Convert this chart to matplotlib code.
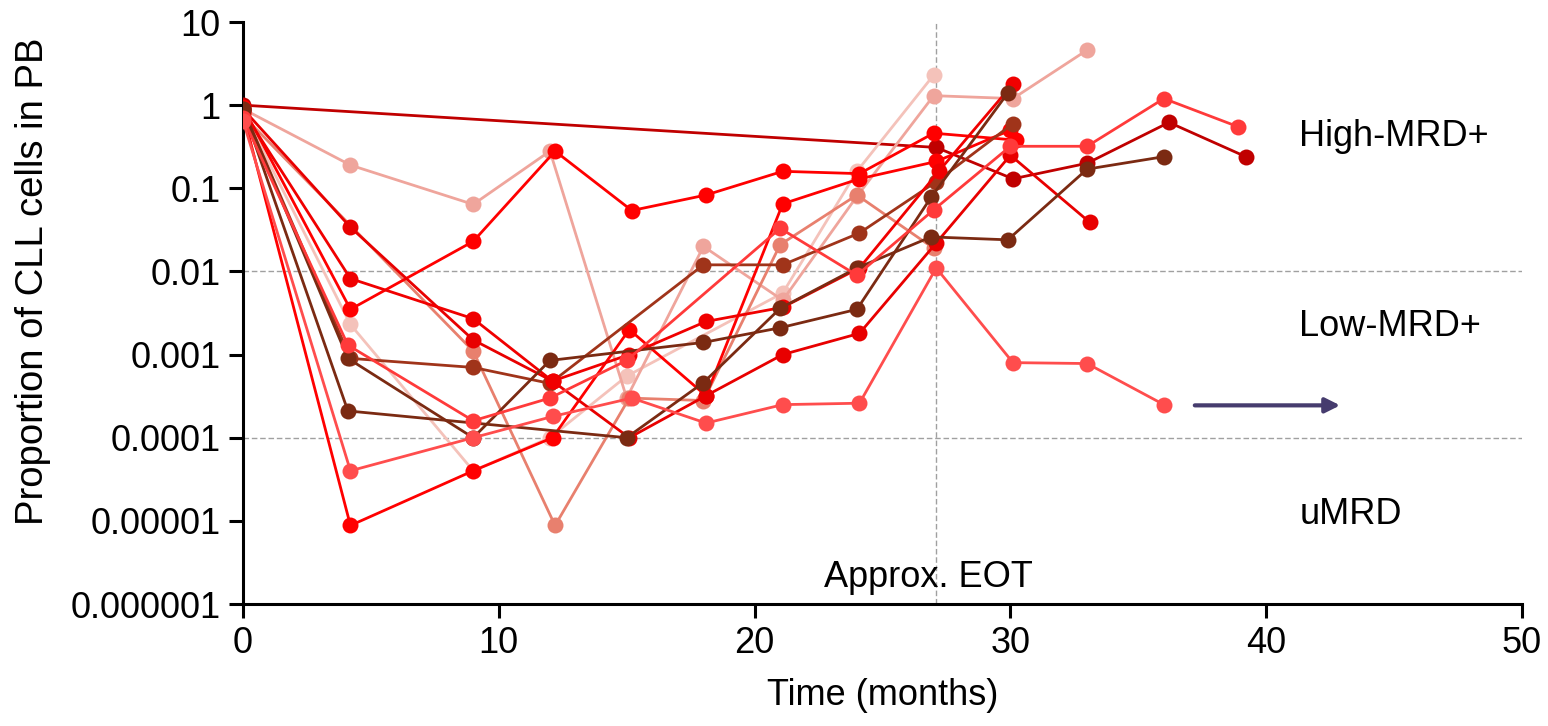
import matplotlib
matplotlib.use("Agg")
import matplotlib.pyplot as plt
from matplotlib.ticker import FixedLocator, NullLocator

plt.rcParams['font.family'] = ['Liberation Sans', 'DejaVu Sans']

# Patient MRD trajectories: time (months) and proportion of CLL cells in PB
dr_t = [0, 27.1, 30.1, 33.0, 36.2, 39.2]
dr_v = [1.0, 0.31, 0.13, 0.2, 0.62, 0.24]

pp_t = [0, 4.2, 9.0, 12.0, 15.0, 18.0, 21.1, 24.0, 27.0, 30.1, 33.0]
pp_v = [0.9, 0.19, 0.064, 0.28, 0.0003, 0.02, 0.0045, 0.08, 1.3, 1.2, 4.6]

vp_t = [0, 4.2, 9.0, 12.0, 15.0, 21.1, 24.0, 27.0]
vp_v = [0.85, 0.0023, 0.00004, 0.0001, 0.00055, 0.0055, 0.16, 2.3]

sa_t = [0, 9.0, 12.2, 15.1, 18.0, 21.0, 24.0, 27.0]
sa_v = [0.75, 0.0011, 0.0000088, 0.0003, 0.00028, 0.021, 0.083, 0.019]

rc_t = [0, 4.2, 9.0, 12.2, 15.2, 18.1, 21.1, 24.1, 27.0, 30.2]
rc_v = [0.95, 0.0035, 0.023, 0.28, 0.054, 0.083, 0.16, 0.15, 0.46, 0.38]

ra_t = [0, 4.2, 9.0, 12.1, 15.1, 18.1, 21.1, 24.1, 27.1, 30.0, 33.1]
ra_v = [0.9, 0.034, 0.0015, 0.00048, 0.0001, 0.00032, 0.001, 0.0018, 0.022, 0.25, 0.039]

rb_t = [0, 4.2, 9.0, 12.1, 15.1, 18.1, 21.1, 24.1, 27.2, 30.1]
rb_v = [0.85, 0.0082, 0.0027, 0.00048, 0.001, 0.0025, 0.0037, 0.011, 0.16, 1.8]

re_t = [0, 4.2, 9.0, 12.1, 15.1, 18.1, 21.1, 24.1, 27.1, 30.0]
re_v = [0.8, 0.0000088, 0.00004, 0.0001, 0.002, 0.00032, 0.065, 0.13, 0.21, 0.5]

lrc_t = [0, 4.1, 9.0, 12.0, 15.0, 21.0, 24.0, 27.0, 30.0, 33.0, 36.0, 38.9]
lrc_v = [0.7, 0.0013, 0.00016, 0.0003, 0.00085, 0.033, 0.009, 0.055, 0.32, 0.32, 1.2, 0.55]

dbc_t = [0, 4.1, 9.0, 12.0, 18.0, 21.0, 24.0, 26.9, 29.9]
dbc_v = [0.9, 0.0009, 0.0001, 0.00085, 0.0014, 0.0021, 0.0035, 0.078, 1.4]

br_t = [0, 4.2, 9.0, 12.0, 18.0, 21.1, 24.1, 27.1, 30.1]
br_v = [0.9, 0.0009, 0.0007, 0.00045, 0.012, 0.012, 0.029, 0.12, 0.6]

dbd_t = [0, 4.1, 15.0, 18.0, 21.0, 24.0, 26.9, 29.9, 33.0, 36.0]
dbd_v = [0.88, 0.00021, 0.0001, 0.00046, 0.0036, 0.011, 0.026, 0.024, 0.17, 0.24]

lr_t = [0, 4.2, 9.0, 12.1, 15.2, 18.1, 21.1, 24.1, 27.1, 30.1, 33.0, 36.0]
lr_v = [0.65, 0.00004, 0.0001, 0.00018, 0.0003, 0.00015, 0.00025, 0.00026, 0.011, 0.0008, 0.00078, 0.00025]

series = [
    (dr_t, dr_v, "#c00000"),
    (vp_t, vp_v, "#f4c2ba"),
    (pp_t, pp_v, "#efa59c"),
    (sa_t, sa_v, "#e8806e"),
    (rc_t, rc_v, "#ff0000"),
    (re_t, re_v, "#ff0000"),
    (br_t, br_v, "#a0341a"),
    (ra_t, ra_v, "#e80000"),
    (rb_t, rb_v, "#f00000"),
    (dbc_t, dbc_v, "#7b2a12"),
    (dbd_t, dbd_v, "#7b2a12"),
    (lrc_t, lrc_v, "#ff3a3a"),
    (lr_t, lr_v, "#ff4d4d"),
]

y_ticks = [1e-6, 1e-5, 1e-4, 1e-3, 1e-2, 1e-1, 1, 10]
y_labels = ["0.000001", "0.00001", "0.0001", "0.001", "0.01", "0.1", "1", "10"]
x_ticks = [0, 10, 20, 30, 40, 50]

FS = 26

fig = plt.figure(figsize=(15.48, 7.26), dpi=100)
ax = fig.add_axes([243 / 1548, 1 - 604 / 726, (1522 - 243) / 1548, (604 - 22) / 726])

for t, v, c in series:
    ax.plot(t, v, color=c, lw=2.0, marker='o', ms=11.5, mec='none', zorder=3)

ax.set_yscale('log')
ax.set_xlim(0, 50)
ax.set_ylim(1e-6, 10)
ax.yaxis.set_major_locator(FixedLocator(y_ticks))
ax.set_yticklabels(y_labels)
ax.yaxis.set_minor_locator(NullLocator())
ax.set_xticks(x_ticks)

# Thresholds and end of treatment
for yv in (1e-2, 1e-4):
    ax.axhline(yv, color='#a0a0a0', lw=1.0, ls=(0, (4, 2)), zorder=1)
ax.axvline(27.1, color='#a0a0a0', lw=1.0, ls=(0, (4, 2)), zorder=1)

for side in ('top', 'right'):
    ax.spines[side].set_visible(False)
for side in ('left', 'bottom'):
    ax.spines[side].set_linewidth(2.2)
ax.tick_params(axis='both', which='major', length=10, width=2.2, labelsize=FS, pad=6)

ax.set_xlabel("Time (months)", fontsize=FS, labelpad=12)
ax.set_ylabel("Proportion of CLL cells in PB", fontsize=27.5)
ax.yaxis.set_label_coords(-0.150, 0.555)

ax.text(41.3, 0.42, "High-MRD+", fontsize=FS, va='center', ha='left')
ax.text(41.3, 0.0022, "Low-MRD+", fontsize=FS, va='center', ha='left')
ax.text(41.3, 0.000012, "uMRD", fontsize=FS, va='center', ha='left')
ax.text(26.8, 0.0000021, "Approx. EOT", fontsize=FS, va='center', ha='center')

ax.annotate("", xy=(43.0, 0.000245), xytext=(37.1, 0.000245),
            arrowprops=dict(arrowstyle='-|>', color='#463c6e', lw=3, mutation_scale=22))

fig.savefig("out.png", dpi=100)
